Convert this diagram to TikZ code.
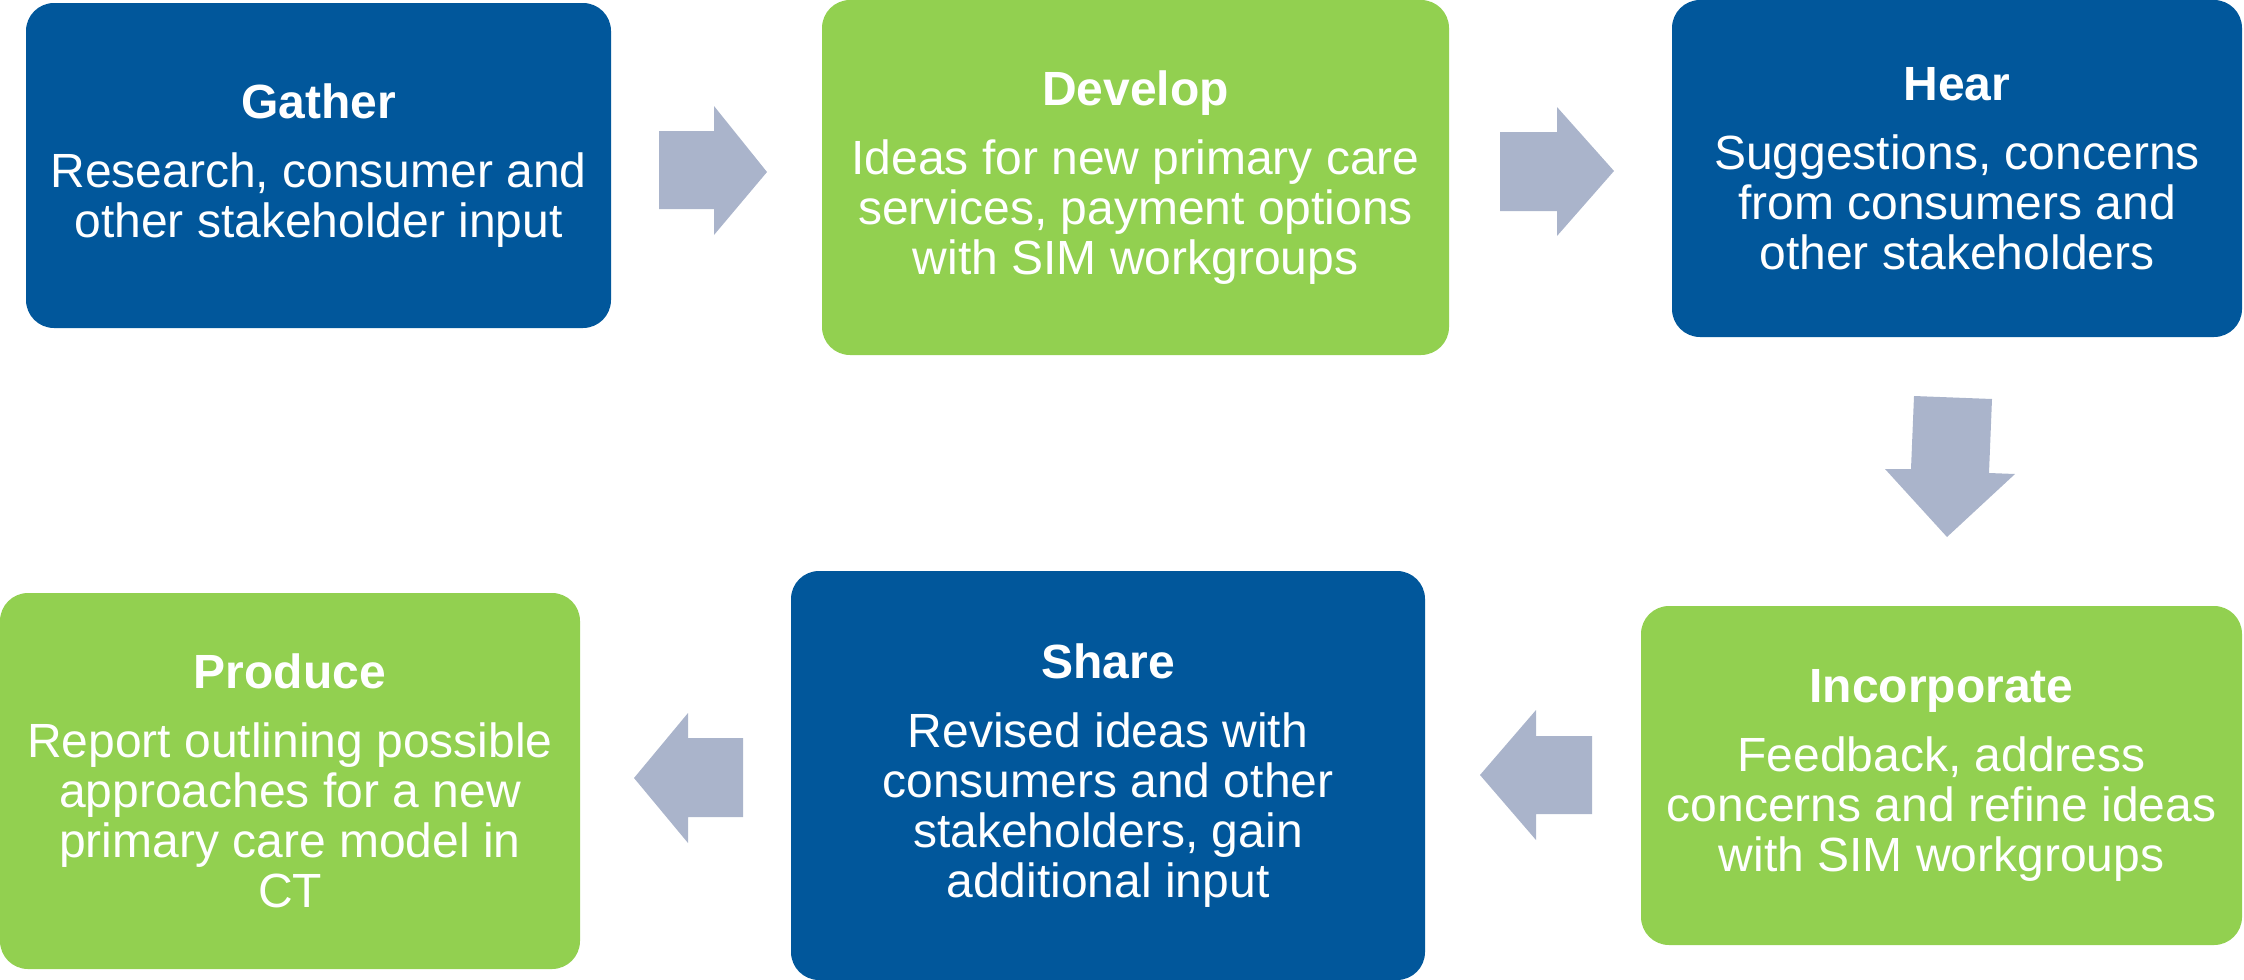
\documentclass[tikz,border=0pt]{standalone}
\usepackage{fontspec}
\setmainfont{Liberation Sans}
\definecolor{boxblue}{RGB}{1,87,155}
\definecolor{boxgreen}{RGB}{146,208,80}
\definecolor{arrowgray}{RGB}{170,180,203}
\tikzset{
  stagebox/.style={rounded corners=14pt, align=center, text=white, inner sep=0pt,
    font=\fontsize{24}{25}\selectfont},
  bluebox/.style={stagebox, fill=boxblue},
  greenbox/.style={stagebox, fill=boxgreen},
  blockarrow/.style={fill=arrowgray, draw=none}
}
\newcommand{\stagetitle}[1]{{\bfseries #1}\\[9.5pt]}
\begin{document}
\begin{tikzpicture}[x=0.5pt,y=-0.5pt]
\useasboundingbox (0,0) rectangle (2244,980);

% boxes
\node[bluebox, minimum width=292.5pt, minimum height=162.5pt] (gather) at (318.5,165.5)
  {\stagetitle{Gather}Research, consumer and\\other stakeholder input};
\node[greenbox, minimum width=313.5pt, minimum height=177.5pt] (develop) at (1135.5,177.5)
  {\stagetitle{Develop}Ideas for new primary care\\services, payment options\\with SIM workgroups};
\node[bluebox, minimum width=285pt, minimum height=168.5pt] (hear) at (1957,168.5)
  {\stagetitle{Hear}Suggestions, concerns\\from consumers and\\other stakeholders};
\node[greenbox, minimum width=300.5pt, minimum height=169.5pt] (incorporate) at (1941.5,775.5)
  {\stagetitle{Incorporate}Feedback, address\\concerns and refine ideas\\with SIM workgroups};
\node[bluebox, minimum width=317pt, minimum height=204.5pt] (share) at (1108,775.5)
  {\stagetitle{Share}Revised ideas with\\consumers and other\\stakeholders, gain\\additional input};
\node[greenbox, minimum width=290pt, minimum height=188pt] (produce) at (290,781)
  {\stagetitle{Produce}Report outlining possible\\approaches for a new\\primary care model in\\CT};

% block arrows
\fill[blockarrow] (659,131) -- (714,131) -- (714,106) -- (767,172) -- (714,235) -- (714,209) -- (659,209) -- cycle;
\fill[blockarrow] (1500,132) -- (1557,132) -- (1557,107) -- (1614,171) -- (1557,236) -- (1557,211) -- (1500,211) -- cycle;
\fill[blockarrow] (1914,396) -- (1992,399) -- (1989,473) -- (2015,474) -- (1947,537) -- (1885,469) -- (1911,469) -- cycle;
\fill[blockarrow] (1592,736) -- (1536,736) -- (1536,710) -- (1480,775) -- (1536,840) -- (1536,814) -- (1592,814) -- cycle;
\fill[blockarrow] (743,738) -- (688,738) -- (688,713) -- (634,778) -- (688,843) -- (688,817) -- (743,817) -- cycle;
\end{tikzpicture}
\end{document}
